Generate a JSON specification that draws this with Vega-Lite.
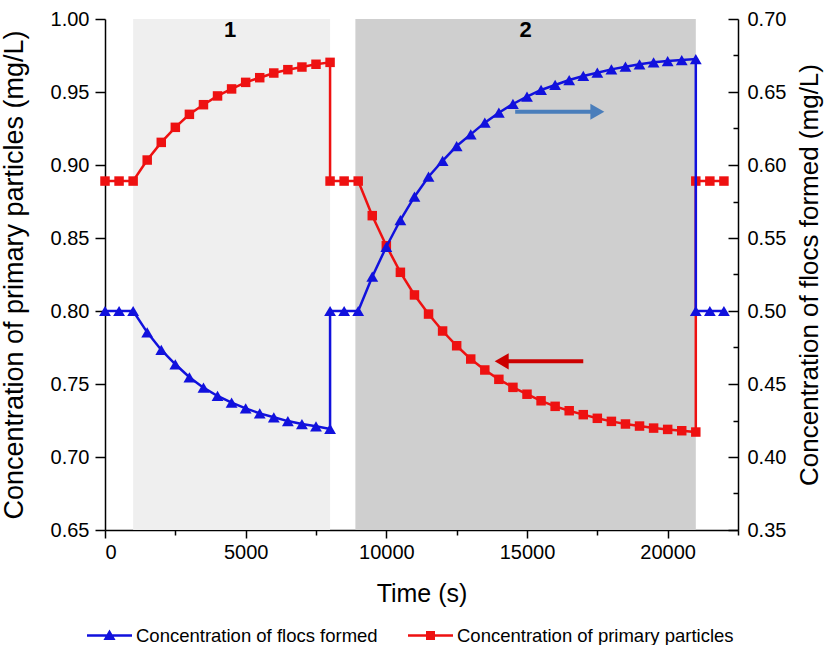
{
  "$schema": "https://vega.github.io/schema/vega-lite/v6.json",
  "width": 633,
  "height": 511,
  "autosize": {"type": "none"},
  "padding": {"left": 105, "top": 19, "right": 89, "bottom": 115},
  "background": "white",
  "config": {
    "view": {"stroke": null},
    "font": "Liberation Sans",
    "axis": {
      "grid": false,
      "domainColor": "black",
      "domainWidth": 1.5,
      "tickColor": "black",
      "tickWidth": 1.5,
      "labelColor": "black",
      "labelFont": "Liberation Sans",
      "labelFontSize": 20,
      "titleFont": "Liberation Sans",
      "titleFontWeight": "normal",
      "titleColor": "black"
    }
  },
  "datasets": {
    "primary": [
      {"t": 0, "v": 0.889}, {"t": 500, "v": 0.889}, {"t": 1000, "v": 0.889},
      {"t": 1500, "v": 0.9034}, {"t": 2000, "v": 0.9155}, {"t": 2500, "v": 0.9258},
      {"t": 3000, "v": 0.9347}, {"t": 3500, "v": 0.9413}, {"t": 4000, "v": 0.9473},
      {"t": 4500, "v": 0.9521}, {"t": 5000, "v": 0.9566}, {"t": 5500, "v": 0.9598},
      {"t": 6000, "v": 0.963}, {"t": 6500, "v": 0.9653}, {"t": 7000, "v": 0.9671},
      {"t": 7500, "v": 0.969}, {"t": 8000, "v": 0.9703}, {"t": 8000, "v": 0.889},
      {"t": 8500, "v": 0.889}, {"t": 9000, "v": 0.889}, {"t": 9500, "v": 0.8653},
      {"t": 10000, "v": 0.8447}, {"t": 10500, "v": 0.8265}, {"t": 11000, "v": 0.811},
      {"t": 11500, "v": 0.7979}, {"t": 12000, "v": 0.7863}, {"t": 12500, "v": 0.7762},
      {"t": 13000, "v": 0.7671}, {"t": 13500, "v": 0.7596}, {"t": 14000, "v": 0.7532},
      {"t": 14500, "v": 0.7477}, {"t": 15000, "v": 0.743}, {"t": 15500, "v": 0.7385},
      {"t": 16000, "v": 0.7347}, {"t": 16500, "v": 0.7317}, {"t": 17000, "v": 0.729},
      {"t": 17500, "v": 0.7265}, {"t": 18000, "v": 0.7244}, {"t": 18500, "v": 0.7226},
      {"t": 19000, "v": 0.7212}, {"t": 19500, "v": 0.7198}, {"t": 20000, "v": 0.7189},
      {"t": 20500, "v": 0.718}, {"t": 21000, "v": 0.7171}, {"t": 21000, "v": 0.889},
      {"t": 21500, "v": 0.889}, {"t": 22000, "v": 0.889}
    ],
    "flocs": [
      {"t": 0, "v": 0.5}, {"t": 500, "v": 0.5}, {"t": 1000, "v": 0.5},
      {"t": 1500, "v": 0.4854}, {"t": 2000, "v": 0.4733}, {"t": 2500, "v": 0.4635},
      {"t": 3000, "v": 0.4546}, {"t": 3500, "v": 0.4475}, {"t": 4000, "v": 0.4418},
      {"t": 4500, "v": 0.4372}, {"t": 5000, "v": 0.4333}, {"t": 5500, "v": 0.4299},
      {"t": 6000, "v": 0.4272}, {"t": 6500, "v": 0.4246}, {"t": 7000, "v": 0.4226},
      {"t": 7500, "v": 0.421}, {"t": 8000, "v": 0.4192}, {"t": 8000, "v": 0.5},
      {"t": 8500, "v": 0.5}, {"t": 9000, "v": 0.5}, {"t": 9500, "v": 0.5235},
      {"t": 10000, "v": 0.544}, {"t": 10500, "v": 0.5623}, {"t": 11000, "v": 0.5783},
      {"t": 11500, "v": 0.592}, {"t": 12000, "v": 0.6029}, {"t": 12500, "v": 0.613},
      {"t": 13000, "v": 0.621}, {"t": 13500, "v": 0.629}, {"t": 14000, "v": 0.6358},
      {"t": 14500, "v": 0.6418}, {"t": 15000, "v": 0.6468}, {"t": 15500, "v": 0.6514},
      {"t": 16000, "v": 0.6548}, {"t": 16500, "v": 0.6582}, {"t": 17000, "v": 0.661},
      {"t": 17500, "v": 0.6632}, {"t": 18000, "v": 0.6655}, {"t": 18500, "v": 0.6673},
      {"t": 19000, "v": 0.669}, {"t": 19500, "v": 0.6703}, {"t": 20000, "v": 0.6712},
      {"t": 20500, "v": 0.6719}, {"t": 21000, "v": 0.6726}, {"t": 21000, "v": 0.5},
      {"t": 21500, "v": 0.5}, {"t": 22000, "v": 0.5}
    ],
    "phases": [
      {"phase": "1", "t": 1000, "t2": 8000},
      {"phase": "2", "t": 8900, "t2": 21000}
    ],
    "labels": [
      {"label": "1", "t": 4450, "v": 0.9925},
      {"label": "2", "t": 14950, "v": 0.9925}
    ],
    "legend": [
      {"s": "Concentration of flocs formed", "t": 0, "v": 0.889},
      {"s": "Concentration of primary particles", "t": 0, "v": 0.889}
    ]
  },
  "layer": [
    {
      "encoding": {
        "x": {
          "field": "t",
          "type": "quantitative",
          "scale": {"domain": [0, 22500], "nice": false, "zero": false},
          "axis": {
            "title": "Time (s)",
            "titleFontSize": 25,
            "titlePadding": 19,
            "labelPadding": 4,
            "values": [0, 2500, 5000, 7500, 10000, 12500, 15000, 17500, 20000, 22500],
            "labelExpr": "datum.value % 5000 == 0 ? format(datum.value, 'd') : ''",
            "tickSize": {"condition": {"test": "datum.value % 5000 == 0", "value": 8}, "value": 5}
          }
        }
      },
      "layer": [
        {
          "data": {"name": "phases"},
          "mark": {"type": "rect", "opacity": 1},
          "encoding": {
            "x2": {"field": "t2"},
            "color": {
              "field": "phase",
              "type": "nominal",
              "scale": {"domain": ["1", "2"], "range": ["#efefef", "#cfcfcf"]},
              "legend": null
            }
          }
        },
        {
          "data": {"name": "labels"},
          "mark": {"type": "text", "fontSize": 22, "fontWeight": "bold", "color": "black", "baseline": "middle", "align": "center"},
          "encoding": {
            "y": {"field": "v", "type": "quantitative"},
            "text": {"field": "label"}
          }
        },
        {
          "data": {"name": "primary"},
          "mark": {
            "type": "line",
            "color": "#ee1111",
            "strokeWidth": 2.5,
            "point": {"shape": "square", "size": 90, "filled": true, "color": "#ee1111", "opacity": 1}
          },
          "encoding": {
            "order": {"value": null},
            "y": {
              "field": "v",
              "type": "quantitative",
              "scale": {"domain": [0.65, 1.0], "nice": false, "zero": false},
              "axis": {
                "title": "Concentration of primary particles (mg/L)",
                "titleFontSize": 27,
                "titlePadding": 22,
                "labelPadding": 6,
                "values": [0.65, 0.675, 0.7, 0.725, 0.75, 0.775, 0.8, 0.825, 0.85, 0.875, 0.9, 0.925, 0.95, 0.975, 1.0],
                "labelExpr": "abs(datum.value*20-round(datum.value*20))<0.01 ? format(datum.value, '.2f') : ''",
                "tickSize": {"condition": {"test": "abs(datum.value*20-round(datum.value*20))<0.01", "value": 10}, "value": 5}
              }
            }
          }
        },
        {
          "data": {"values": [{"t": 14580, "t2": 17500, "v": 0.9365}]},
          "mark": {"type": "rule", "color": "#4a7ebb", "strokeWidth": 4},
          "encoding": {"x2": {"field": "t2"}, "y": {"field": "v", "type": "quantitative"}}
        },
        {
          "data": {"values": [{"t": 17500, "v": 0.9365}]},
          "mark": {"type": "point", "shape": "triangle-right", "size": 260, "filled": true, "color": "#4a7ebb", "opacity": 1},
          "encoding": {"y": {"field": "v", "type": "quantitative"}}
        },
        {
          "data": {"values": [{"t": 17000, "t2": 14100, "v": 0.7655}]},
          "mark": {"type": "rule", "color": "#cc0000", "strokeWidth": 4},
          "encoding": {"x2": {"field": "t2"}, "y": {"field": "v", "type": "quantitative"}}
        },
        {
          "data": {"values": [{"t": 14100, "v": 0.7655}]},
          "mark": {"type": "point", "shape": "triangle-left", "size": 260, "filled": true, "color": "#cc0000", "opacity": 1},
          "encoding": {"y": {"field": "v", "type": "quantitative"}}
        },
        {
          "data": {"name": "legend"},
          "mark": {"type": "point", "filled": true, "size": 0, "opacity": 1},
          "encoding": {
            "y": {"field": "v", "type": "quantitative"},
            "fill": {
              "field": "s",
              "type": "nominal",
              "scale": {"range": ["#1111dd", "#ee1111"]},
              "legend": {
                "title": null,
                "orient": "none",
                "direction": "horizontal",
                "legendX": -18,
                "legendY": 594,
                "padding": 0,
                "labelFont": "Liberation Sans",
                "labelFontSize": 18.5,
                "labelColor": "black",
                "labelLimit": 500,
                "symbolSize": 2025,
                "symbolStrokeWidth": 0,
                "symbolOpacity": 1,
                "columnPadding": 30,
                "labelOffset": 4
              }
            },
            "shape": {
              "field": "s",
              "type": "nominal",
              "scale": {
                "range": [
                  "M-1,-0.055H1V0.055H-1Z M0,-0.27L0.27,0.2L-0.27,0.2Z",
                  "M-1,-0.055H1V0.055H-1Z M-0.2,-0.2H0.2V0.2H-0.2Z"
                ]
              }
            }
          }
        }
      ]
    },
    {
      "data": {"name": "flocs"},
      "mark": {
        "type": "line",
        "color": "#1111dd",
        "strokeWidth": 2.5,
        "point": {"shape": "triangle-up", "size": 140, "filled": true, "color": "#1111dd", "opacity": 1}
      },
      "encoding": {
        "order": {"value": null},
        "x": {
          "field": "t",
          "type": "quantitative",
          "scale": {"domain": [0, 22500], "nice": false, "zero": false}
        },
        "y": {
          "field": "v",
          "type": "quantitative",
          "scale": {"domain": [0.35, 0.7], "nice": false, "zero": false},
          "axis": {
            "orient": "right",
            "title": "Concentration of flocs formed (mg/L)",
            "titleFontSize": 26,
            "titleAngle": 270,
            "titlePadding": 37,
            "labelPadding": 19,
            "values": [0.35, 0.375, 0.4, 0.425, 0.45, 0.475, 0.5, 0.525, 0.55, 0.575, 0.6, 0.625, 0.65, 0.675, 0.7],
            "labelExpr": "abs(datum.value*20-round(datum.value*20))<0.01 ? format(datum.value, '.2f') : ''",
            "tickSize": {"condition": {"test": "abs(datum.value*20-round(datum.value*20))<0.01", "value": -10}, "value": -5}
          }
        }
      }
    }
  ],
  "resolve": {"scale": {"y": "independent"}}
}
